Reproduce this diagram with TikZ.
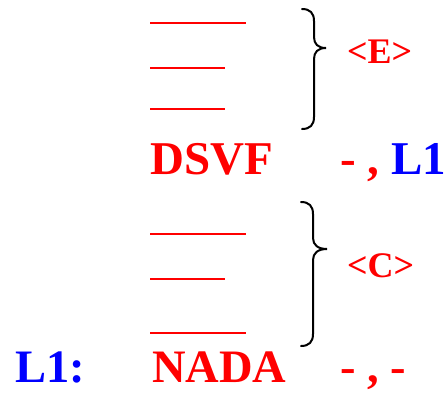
\documentclass[tikz,border=0pt]{standalone}
\usepackage{fontspec}
\setmainfont{Liberation Serif}
\definecolor{myred}{RGB}{255,0,0}
\definecolor{myblue}{RGB}{0,0,255}
\tikzset{
  big/.style={inner sep=0pt, anchor=base west, font=\fontsize{47}{50}\selectfont\bfseries},
  small/.style={inner sep=0pt, anchor=base west, font=\fontsize{36}{40}\selectfont\bfseries, text=myred},
  blank/.style={draw=myred, line width=2pt},
  brace/.style={draw=black, line width=2pt, line cap=round}
}
\begin{document}
\begin{tikzpicture}[x=1pt,y=-1pt]
\useasboundingbox (0,0) rectangle (448,392);
% top group
\draw[blank] (150,22.7) -- (246,22.7);
\draw[blank] (150,67.7) -- (225,67.7);
\draw[blank] (150,109) -- (225,109);
\draw[brace] (302,9) .. controls (310,9) and (314,13) .. (314,21) -- (314,37) .. controls (314,44) and (318,48) .. (326,48) .. controls (318,48) and (314,52) .. (314,59) -- (314,117) .. controls (314,125) and (310,129) .. (302,129);
\node[small] (e) at (347,63) {<E>};
\node[big, text=myred] (dsvf) at (150,174.5) {DSVF};
\node[big, text=myred] (r1) at (340,174.5) {- , \textcolor{myblue}{L1}};
% bottom group
\draw[blank] (150,234) -- (246,234);
\draw[blank] (150,279) -- (225,279);
\draw[blank] (150,333) -- (246,333);
\draw[brace] (301,202) .. controls (309,202) and (313,206) .. (313,214) -- (313,238) .. controls (313,245) and (318,249) .. (327,249) .. controls (318,249) and (313,253) .. (313,260) -- (313,334) .. controls (313,342) and (309,346) .. (301,346);
\node[small] (c) at (347,277) {<C>};
\node[big, text=myblue, font=\fontsize{46.5}{50}\selectfont\bfseries] (l1) at (15,382.5) {L1:};
\node[big, text=myred, font=\fontsize{46.5}{50}\selectfont\bfseries] (nada) at (152,382.5) {NADA};
\node[big, text=myred, font=\fontsize{46.5}{50}\selectfont\bfseries] (r2) at (340,382.5) {- , -};
\end{tikzpicture}
\end{document}
